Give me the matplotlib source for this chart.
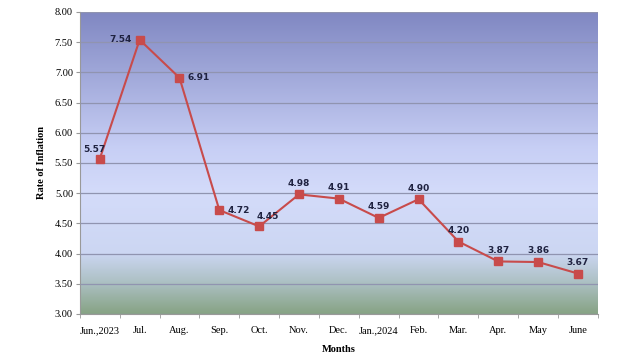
import numpy as np
import matplotlib.pyplot as plt
from matplotlib.colors import LinearSegmentedColormap

months = ['Jun.,2023', 'Jul.', 'Aug.', 'Sep.', 'Oct.', 'Nov.', 'Dec.',
          'Jan.,2024', 'Feb.', 'Mar.', 'Apr.', 'May', 'June']
inflation = [5.57, 7.54, 6.91, 4.72, 4.45, 4.98, 4.91, 4.59, 4.90, 4.20, 3.87, 3.86, 3.67]
yticks = [3.00, 3.50, 4.00, 4.50, 5.00, 5.50, 6.00, 6.50, 7.00, 7.50, 8.00]

# label offsets (points) for each value
offsets = [(-4, 7), (-14, 0), (14, 0), (14, 0), (6, 7), (0, 8), (0, 8),
           (0, 8), (0, 8), (0, 8), (0, 8), (0, 8), (0, 8)]

fig = plt.figure(figsize=(6.34, 3.63), dpi=100)
ax = fig.add_axes([0.126, 0.135, 0.817, 0.832])

# background gradient (bottom -> top)
cmap = LinearSegmentedColormap.from_list('bg', [
    (0.00, (0.53, 0.64, 0.52)),
    (0.10, (0.67, 0.75, 0.76)),
    (0.20, (0.80, 0.84, 0.95)),
    (0.40, (0.83, 0.86, 0.98)),
    (0.55, (0.78, 0.81, 0.96)),
    (1.00, (0.50, 0.53, 0.76)),
])
grad = np.linspace(0, 1, 256).reshape(-1, 1)
ax.imshow(grad, cmap=cmap, aspect='auto', origin='lower',
          extent=[-0.5, 12.5, 3, 8], zorder=0)

x = np.arange(len(months))
ax.plot(x, inflation, color='#c84b4b', lw=1.5, marker='s', markersize=5.5,
        markerfacecolor='#c84b4b', markeredgecolor='#c84b4b', zorder=3)

for xi, v, off in zip(x, inflation, offsets):
    ax.annotate(f'{v:.2f}', (xi, v), xytext=off, textcoords='offset points',
                ha='center', va='center', fontsize=6.5, fontweight='bold',
                color='#1f2240', family='DejaVu Sans', zorder=4)

ax.set_xlim(-0.5, 12.5)
ax.set_ylim(3, 8)
ax.set_yticks(yticks)
ax.set_yticklabels([f'{t:.2f}' for t in yticks], family='Liberation Serif', fontsize=7.5)
ax.set_xticks(x)
ax.set_xticklabels(months, family='Liberation Serif', fontsize=7.5)
ax.set_xticks(np.arange(-0.5, 13, 1), minor=True)
ax.tick_params(axis='x', which='major', length=0, pad=9)
ax.tick_params(axis='x', which='minor', length=3, color='#999999')
ax.tick_params(axis='y', length=3, color='#999999', pad=2)

ax.grid(axis='y', color='#9094b0', lw=0.9, zorder=1)
ax.set_axisbelow(False)
for side in ['top', 'right']:
    ax.spines[side].set_visible(False)
for side in ['left', 'bottom']:
    ax.spines[side].set_color('#999999')

ax.set_ylabel('Rate of Inflation', family='Liberation Serif', fontweight='bold',
              fontsize=7.5, labelpad=6)
ax.set_xlabel('Months', family='Liberation Serif', fontweight='bold',
              fontsize=7.5, labelpad=7)

fig.savefig('out.png', dpi=100)
